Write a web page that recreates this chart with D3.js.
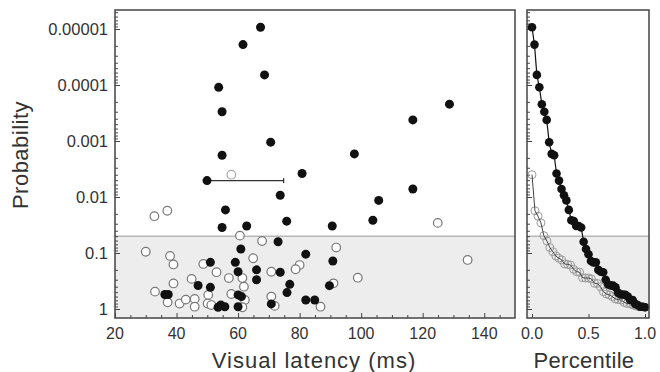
<!DOCTYPE html>
<html>
<head>
<meta charset="utf-8">
<script src="https://cdn.jsdelivr.net/npm/d3@7"></script>
<style>
html,body{margin:0;padding:0;background:#fff;}
text{font-family:"Liberation Sans",Arial,Helvetica,sans-serif;fill:#333;}
</style>
</head>
<body>
<svg id="chart" width="660" height="372"></svg>
<script>
// ---- data ----
const filledLatency = [67.3, 61.6, 68.6, 53.7, 54.8, 70.6, 54.8, 49.9, 80.8, 73.7, 55.9, 75.8, 54.8, 62.8, 128.7, 116.8, 97.8, 116.8, 105.7, 103.8, 90.6, 73.0, 82.0, 90.8, 73.7, 76.8, 89.7, 75.9, 70.8, 82.0, 84.9, 60.9, 51.0, 59.1, 60.0, 66.0, 66.0, 47.0, 51.0, 36.2, 37.3, 60.0, 61.1, 54.4, 55.7, 60.0, 53.5];
const filledProb = [9.3e-6, 1.9e-5, 6.6e-5, 1.1e-4, 3.0e-4, 1.05e-3, 1.8e-3, 5.1e-3, 3.8e-3, 9.3e-3, 0.017, 0.027, 0.035, 0.033, 2.2e-4, 4.2e-4, 1.7e-3, 7.2e-3, 0.0115, 0.026, 0.033, 0.063, 0.105, 0.139, 0.221, 0.363, 0.383, 0.51, 0.81, 0.69, 0.69, 0.085, 0.147, 0.147, 0.216, 0.20, 0.30, 0.38, 0.41, 0.55, 0.55, 0.56, 0.60, 0.85, 0.91, 0.91, 0.93];
const openLatency = [57.8, 32.8, 37.0, 124.9, 60.6, 67.8, 91.9, 30.0, 37.9, 39.0, 64.9, 48.7, 53.0, 57.0, 61.4, 61.9, 44.9, 39.0, 33.0, 37.1, 41.0, 43.0, 45.9, 45.9, 50.3, 50.1, 51.3, 57.8, 62.2, 80.0, 78.7, 70.8, 98.9, 91.0, 70.8, 71.9, 86.8, 134.6, 61.4];
const openProb = [0.004, 0.022, 0.0176, 0.029, 0.049, 0.061, 0.080, 0.095, 0.113, 0.16, 0.124, 0.157, 0.22, 0.28, 0.28, 0.40, 0.29, 0.35, 0.49, 0.76, 0.80, 0.68, 0.66, 0.91, 0.56, 0.80, 0.85, 0.54, 0.69, 0.164, 0.195, 0.216, 0.276, 0.348, 0.60, 0.88, 0.91, 0.133, 0.93];
// latency range bar
const rangeBarLatency = [49.9, 74.8];
const rangeBarProb = 5.1e-3;
// criterion
const criterionProb = 0.05;
// right panel: percentile plots
const pctFilled = [0, .022, .043, .065, .087, .109, .130, .152, .174, .196, .217, .239, .261, .283, .304, .326, .348, .370, .391, .413, .435, .457, .478, .500, .522, .543, .565, .587, .609, .630, .652, .674, .696, .717, .739, .761, .783, .804, .826, .848, .870, .891, .913, .935, .957, .978, 1];
const pctFilledProb = [9.3e-6, 1.9e-5, 6.6e-5, 1.1e-4, 2.2e-4, 3.0e-4, 4.2e-4, 1.05e-3, 1.7e-3, 1.8e-3, 3.8e-3, 5.1e-3, 7.2e-3, 9.3e-3, 0.0115, 0.017, 0.026, 0.027, 0.033, 0.033, 0.035, 0.063, 0.085, 0.105, 0.139, 0.147, 0.147, 0.20, 0.216, 0.221, 0.30, 0.363, 0.38, 0.383, 0.41, 0.51, 0.55, 0.55, 0.56, 0.60, 0.69, 0.69, 0.81, 0.85, 0.91, 0.91, 0.93];
const pctOpen = [0, .026, .053, .079, .105, .132, .158, .184, .211, .237, .263, .289, .316, .342, .368, .395, .421, .447, .474, .5, .526, .553, .579, .605, .632, .658, .684, .711, .737, .763, .789, .816, .842, .868, .895, .921, .947, .974, 1];
const pctOpenProb = [0.004, 0.0176, 0.022, 0.029, 0.049, 0.061, 0.080, 0.095, 0.113, 0.124, 0.133, 0.157, 0.16, 0.164, 0.195, 0.216, 0.22, 0.276, 0.28, 0.28, 0.29, 0.348, 0.35, 0.40, 0.49, 0.54, 0.56, 0.60, 0.66, 0.68, 0.69, 0.76, 0.80, 0.80, 0.85, 0.88, 0.91, 0.91, 0.93];
// ticks
const yTickValues = [0.00001, 0.0001, 0.001, 0.01, 0.1, 1];
const yTickLabels = ["0.00001", "0.0001", "0.001", "0.01", "0.1", "1"];
const xTickValues = [20, 40, 60, 80, 100, 120, 140];
const pTickValues = [0, 0.5, 1];
const pTickLabels = ["0.0", "0.5", "1.0"];

// ---- layout ----
const svg = d3.select("#chart");
const plotTop = 10, plotBottom = 318;
const L = {x0: 115, x1: 515};
const R = {x0: 527, x1: 649};
const frameColor = "#444";

const y = d3.scaleLog().domain([Math.pow(10, 9/56), Math.pow(10, -299/56)]).range([plotBottom, plotTop]);
const x = d3.scaleLinear().domain([20, 150]).range([L.x0, L.x1]);
const xp = d3.scaleLinear().domain([-5/113, 1 + 4/113]).range([R.x0, R.x1]);

function panelBackground(p) {
  svg.append("rect").attr("x", p.x0).attr("y", y(criterionProb))
    .attr("width", p.x1 - p.x0).attr("height", plotBottom - y(criterionProb))
    .attr("fill", "#ededed");
  svg.append("line").attr("x1", p.x0).attr("x2", p.x1)
    .attr("y1", y(criterionProb)).attr("y2", y(criterionProb))
    .attr("stroke", "#999").attr("stroke-width", 1);
}
panelBackground(L);
panelBackground(R);

// y minor ticks values
const yMinor = [];
for (let e = -6; e <= 0; e++) for (let k = 2; k <= 9; k++) {
  const v = k * Math.pow(10, e);
  if (v >= y.domain()[1] && v <= y.domain()[0]) yMinor.push(v);
}

function yTicks(p) {
  svg.append("g").attr("transform", `translate(${p.x0},0)`)
    .call(d3.axisRight(y).tickValues(yTickValues).tickSize(5).tickFormat(""));
  svg.append("g").attr("transform", `translate(${p.x0},0)`)
    .call(d3.axisRight(y).tickValues(yMinor).tickSize(3).tickFormat(""));
}
yTicks(L); yTicks(R);

// y tick labels left
svg.append("g").selectAll("text").data(yTickValues).join("text")
  .attr("x", L.x0 - 7).attr("y", d => y(d)).attr("dy", "0.36em")
  .attr("text-anchor", "end").attr("font-size", 16.5)
  .text((d, i) => yTickLabels[i]);

// x ticks left
const xMinor = d3.range(25, 150, 5).filter(v => v % 20 !== 0);
svg.append("g").attr("transform", `translate(0,${plotBottom})`)
  .call(d3.axisTop(x).tickValues(xTickValues).tickSize(5).tickFormat(""));
svg.append("g").attr("transform", `translate(0,${plotBottom})`)
  .call(d3.axisTop(x).tickValues(xMinor).tickSize(3).tickFormat(""));
svg.append("g").selectAll("text").data(xTickValues).join("text")
  .attr("x", d => x(d)).attr("y", 339).attr("text-anchor", "middle")
  .attr("font-size", 16).text(d => d);

// x ticks right
svg.append("g").attr("transform", `translate(0,${plotBottom})`)
  .call(d3.axisTop(xp).tickValues(pTickValues).tickSize(4).tickFormat(""));
svg.append("g").selectAll("text").data(pTickValues).join("text")
  .attr("x", d => xp(d)).attr("y", 339).attr("text-anchor", "middle")
  .attr("font-size", 16).text((d, i) => pTickLabels[i]);

svg.selectAll(".domain").remove();
svg.selectAll(".tick line").attr("stroke", frameColor).attr("stroke-width", 1);

// scatter: open circles
const openData = openLatency.map((v, i) => ({x: v, p: openProb[i]}));
svg.append("g").selectAll("circle").data(openData).join("circle")
  .attr("cx", d => x(d.x)).attr("cy", d => y(d.p)).attr("r", 4.3)
  .attr("fill", "#fff").attr("stroke", (d, i) => i === 0 ? "#aaa" : "#777").attr("stroke-width", 1.2);

// range bar
svg.append("line").attr("x1", x(rangeBarLatency[0])).attr("x2", x(rangeBarLatency[1]))
  .attr("y1", y(rangeBarProb)).attr("y2", y(rangeBarProb))
  .attr("stroke", "#333").attr("stroke-width", 1.3);
svg.append("line").attr("x1", x(rangeBarLatency[1])).attr("x2", x(rangeBarLatency[1]))
  .attr("y1", y(rangeBarProb) - 2.5).attr("y2", y(rangeBarProb) + 2.5)
  .attr("stroke", "#333").attr("stroke-width", 1.3);

// filled circles
const filledData = filledLatency.map((v, i) => ({x: v, p: filledProb[i]}));
svg.append("g").selectAll("circle").data(filledData).join("circle")
  .attr("cx", d => x(d.x)).attr("cy", d => y(d.p)).attr("r", 4.5)
  .attr("fill", "#111");

// right panel curves
const openCurve = pctOpen.map((v, i) => ({x: v, p: pctOpenProb[i]}));
const filledCurve = pctFilled.map((v, i) => ({x: v, p: pctFilledProb[i]}));
const line = d3.line().x(d => xp(d.x)).y(d => y(d.p));
svg.append("g").selectAll("circle").data(openCurve).join("circle")
  .attr("cx", d => xp(d.x)).attr("cy", d => y(d.p)).attr("r", 4)
  .attr("fill", "none").attr("stroke", "#999").attr("stroke-width", 1);
svg.append("path").datum(openCurve).attr("d", line)
  .attr("fill", "none").attr("stroke", "#444").attr("stroke-width", 1);
svg.append("path").datum(filledCurve).attr("d", line)
  .attr("fill", "none").attr("stroke", "#111").attr("stroke-width", 1.2);
svg.append("g").selectAll("circle").data(filledCurve).join("circle")
  .attr("cx", d => xp(d.x)).attr("cy", d => y(d.p)).attr("r", 4.3)
  .attr("fill", "#111");

// frames
[L, R].forEach(p => {
  svg.append("rect").attr("x", p.x0).attr("y", plotTop)
    .attr("width", p.x1 - p.x0).attr("height", plotBottom - plotTop)
    .attr("fill", "none").attr("stroke", frameColor).attr("stroke-width", 1.5);
});

// titles
svg.append("text").attr("x", (211 + 417) / 2).attr("y", 368).attr("text-anchor", "middle")
  .attr("font-size", 22).attr("letter-spacing", 1).text("Visual latency (ms)");
svg.append("text").attr("x", 584).attr("y", 368).attr("text-anchor", "middle")
  .attr("font-size", 22).attr("letter-spacing", 0.3).text("Percentile");
svg.append("text").attr("transform", "translate(28,155) rotate(-90)")
  .attr("text-anchor", "middle").attr("font-size", 22).attr("letter-spacing", 0.5).text("Probability");
</script>
</body>
</html>
